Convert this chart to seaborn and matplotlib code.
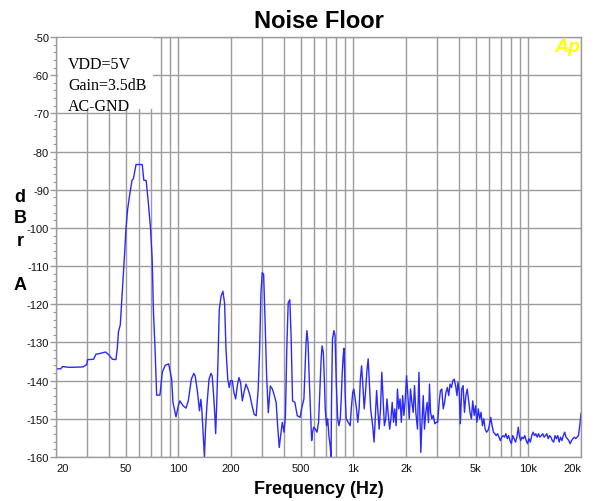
import matplotlib
matplotlib.use("Agg")
import matplotlib.pyplot as plt
from matplotlib.patches import Rectangle
from matplotlib.ticker import FixedLocator, MultipleLocator, NullFormatter
import pandas as pd
import seaborn as sns

# Noise floor sweep (Hz, dBrA)
freq_hz = [
    20, 21.3, 21.8, 23.5, 25.2, 28.5, 30, 30.3, 32.8, 33.8, 37, 38.4, 40, 42, 44,
    44.8, 45.5, 46.6, 48.0, 49.2, 50.2, 51.3, 52.9, 54.4, 55.4, 57.3, 62.2, 63.5,
    65.5, 67.4, 69.4, 70.9, 72.1, 73.6, 75.2, 78.5, 81, 84.1, 88.1, 91.6, 93.2, 97,
    100, 102, 106.6, 110.6, 114, 118.7, 122.6, 124.9, 128.8, 132.1, 134.5, 136.2,
    138.1, 140, 141, 143, 145.6, 149.8, 153.7, 156.2, 159.2, 161.8, 163.4, 165.6,
    168.4, 171.4, 175.5, 179.8, 183.8, 187.3, 191.7, 195.4, 199, 203.5, 207.9,
    212.6, 217.4, 222.1, 226.9, 232.1, 237.1, 243.5, 250.2, 257, 263.9, 271.1,
    278.5, 286.1, 291.5, 296.6, 301.7, 307.3, 312.6, 319.6, 326.7, 335.6, 344.8,
    354.2, 362.3, 370.5, 377.4, 384.3, 393, 402, 409.4, 416.6, 424.5, 433.7, 441.6,
    449.5, 463.5, 478.3, 496, 509, 522, 530, 537, 543, 551, 560, 570, 578, 585, 594,
    607, 620, 633, 646, 655, 663, 674, 683, 691, 703, 714, 725, 737, 746, 751, 760,
    775, 786, 800, 814, 827, 842, 853, 863, 874, 885, 899, 910, 934, 960, 973, 992,
    1007, 1025, 1043, 1060, 1079, 1097, 1115, 1134, 1154, 1174, 1194, 1216, 1235,
    1256, 1290, 1314, 1335, 1359, 1383, 1405, 1430, 1455, 1479, 1505, 1532, 1557,
    1585, 1613, 1640, 1668, 1698, 1726, 1756, 1788, 1817, 1849, 1881, 1913, 1946,
    1980, 2015, 2050, 2087, 2122, 2159, 2199, 2237, 2276, 2326, 2372, 2399, 2431,
    2463, 2509, 2551, 2596, 2642, 2689, 2725, 2763, 2810, 2862, 2921, 2980, 3034,
    3093, 3146, 3203, 3264, 3323, 3382, 3446, 3507, 3571, 3638, 3703, 3770, 3841,
    3911, 3963, 4033, 4088, 4165, 4240, 4316, 4397, 4477, 4558, 4643, 4728, 4813,
    4904, 4992, 5082, 5178, 5272, 5367, 5469, 5567, 5668, 5774, 5878, 5985, 6097,
    6207, 6320, 6438, 6554, 6673, 6798, 6921, 7047, 7178, 7308, 7441, 7579, 7717,
    7857, 8003, 8148, 8296, 8450, 8604, 8761, 8880, 9043, 9207, 9375, 9548, 9722,
    9899, 10082, 10265, 10452, 10644, 10838, 11035, 11238, 11443, 11651, 11865,
    12081, 12301, 12527, 12755, 12987, 13225, 13466, 13711, 13962, 14216, 14475,
    14740, 15009, 15282, 15562, 15845, 16134, 16429, 16727, 17032, 17343, 17659,
    17981, 18310, 18643, 18983, 19330, 19682, 20000,
]
level_dbr = [
    -136.9, -136.9, -136.3, -136.5, -136.5, -136.4, -135.8, -134.5, -134.4, -133.1,
    -132.7, -132.5, -133.2, -134.4, -134.5, -131.6, -127.2, -125.4, -115.7, -107.5,
    -100.3, -95.2, -90.9, -87.5, -87.1, -83.4, -83.4, -87.5, -87.6, -93.4, -100.3,
    -108.1, -122.0, -131.6, -143.8, -143.8, -137.8, -136.0, -135.6, -139.6, -145.7,
    -149.5, -146.6, -145.3, -146.6, -147.2, -145.3, -139.6, -138.1, -138.8, -143.1,
    -147.9, -144.9, -147.5, -152.7, -157.9, -160.0, -152.7, -146.6, -139.6, -138.1,
    -138.8, -144.0, -149.2, -153.9, -146.6, -135.3, -121.4, -117.9, -116.6, -119.7,
    -131.9, -139.6, -141.8, -140.0, -140.0, -143.1, -144.8, -141.3, -139.2, -140.5,
    -145.3, -143.1, -140.9, -142.2, -144.0, -146.6, -148.8, -149.2, -142.2, -131.8,
    -117.0, -111.7, -112.2, -123.1, -138.8, -148.4, -141.4, -142.2, -144.0, -145.7,
    -152.7, -157.5, -154.4, -150.9, -153.5, -149.2, -131.8, -119.6, -118.8, -129.2,
    -145.3, -145.7, -149.2, -149.6, -146.9, -144.8, -137.0, -130.0, -126.9, -130.0,
    -139.6, -148.3, -155.7, -153.5, -152.2, -152.7, -153.5, -150.9, -141.3, -134.3,
    -130.9, -132.6, -139.6, -147.4, -151.8, -150.0, -154.4, -157.0, -160.0, -144.8,
    -129.1, -126.9, -128.2, -141.3, -150.0, -151.8, -150.0, -144.8, -138.7, -133.9,
    -131.5, -143.9, -150.0, -150.9, -151.8, -147.4, -143.1, -142.2, -144.8, -147.4,
    -150.9, -147.4, -139.6, -136.1, -141.3, -147.4, -143.1, -137.8, -134.3, -140.4,
    -147.4, -151.8, -156.1, -150.0, -142.6, -148.3, -152.7, -147.4, -137.8, -144.8,
    -151.8, -150.0, -144.8, -149.1, -152.7, -150.0, -145.7, -150.9, -147.4, -151.8,
    -142.2, -147.4, -144.8, -150.9, -143.9, -149.1, -144.8, -138.7, -143.9, -150.0,
    -142.2, -145.7, -148.3, -141.3, -148.3, -152.7, -137.8, -148.3, -158.8, -151.8,
    -143.9, -152.7, -148.3, -145.7, -151.0, -140.9, -148.3, -150.0, -149.1, -151.3,
    -150.9, -150.9, -145.7, -142.6, -142.2, -147.4, -145.7, -143.1, -141.8, -143.9,
    -140.9, -141.8, -140.0, -139.6, -141.3, -143.9, -140.4, -143.1, -151.3, -142.2,
    -141.3, -148.3, -143.9, -142.2, -145.3, -148.3, -150.0, -145.3, -149.1, -146.6,
    -150.9, -147.4, -150.0, -148.3, -151.8, -150.0, -152.7, -153.5, -153.1, -151.8,
    -149.6, -151.8, -153.5, -153.9, -154.4, -153.9, -154.8, -155.7, -154.8, -154.4,
    -154.8, -153.9, -155.2, -154.4, -155.7, -156.5, -154.4, -155.2, -156.1, -154.8,
    -152.2, -154.4, -155.7, -154.8, -155.2, -154.4, -155.7, -156.5, -155.2, -156.1,
    -154.4, -153.5, -154.4, -153.9, -154.8, -153.9, -154.8, -154.4, -153.9, -154.8,
    -154.4, -153.9, -155.2, -154.4, -154.8, -155.7, -156.1, -154.4, -155.2, -154.4,
    -156.1, -154.8, -155.7, -154.4, -153.5, -154.8, -155.2, -155.7, -156.5, -155.7,
    -155.2, -154.8, -155.2, -154.8, -154.4, -151.8, -148.5,
]

tick_freqs = [20, 50, 100, 200, 500, 1000, 2000, 5000, 10000, 20000]
tick_labels = ["20", "50", "100", "200", "500", "1k", "2k", "5k", "10k", "20k"]
grid_freqs = ([f for f in range(20, 100, 10)] + [f for f in range(100, 1000, 100)]
              + [f for f in range(1000, 10001, 1000)])
level_ticks = list(range(-160, -49, 10))
annotation = "VDD=5V\nGain=3.5dB\nAC-GND"

sns.set_style("white")
plt.rcParams['font.family'] = ['Liberation Sans', 'DejaVu Sans']
plt.rcParams['axes.unicode_minus'] = False
plt.rcParams['text.color'] = 'black'

fig = plt.figure(figsize=(5.97, 5.02), dpi=100)
ax = fig.add_axes([56 / 597, 44 / 502, 525 / 597, 420 / 502])

df = pd.DataFrame({"Frequency": freq_hz, "Level": level_dbr})
sns.lineplot(data=df, x="Frequency", y="Level", ax=ax, color="#2a2aff",
             linewidth=1.0, estimator=None, sort=False)

ax.set_xscale("log")
ax.set_xlim(20, 20000)
ax.set_ylim(-160, -50)
ax.set_xticks(tick_freqs, tick_labels)
ax.xaxis.set_minor_locator(FixedLocator(grid_freqs))
ax.xaxis.set_minor_formatter(NullFormatter())
ax.set_yticks(level_ticks)
ax.yaxis.set_minor_locator(MultipleLocator(2))
ax.set_axisbelow(True)
ax.grid(which="both", axis="x", color="#9c9c9c", linewidth=1)
ax.grid(which="major", axis="y", color="#9c9c9c", linewidth=1)
ax.set_xlabel("")
ax.set_ylabel("")

ax.tick_params(axis="x", which="both", length=0, pad=4, labelsize=8, labelcolor="#111111")
ax.tick_params(axis="y", which="major", length=4, width=1, color="#9c9c9c", pad=1,
               labelsize=8, labelcolor="#111111", left=True)
ax.tick_params(axis="y", which="minor", length=2.5, width=0.8, color="#9c9c9c", left=True)
xl = ax.get_xticklabels()
xl[0].set_ha("left")
xl[-1].set_ha("right")
for s in ax.spines.values():
    s.set_color("#9c9c9c")
    s.set_linewidth(1)

# white label box in the top-left corner
ax.add_patch(Rectangle((0.004, 0.828), 0.18, 0.17, transform=ax.transAxes,
                       facecolor="white", edgecolor="none", zorder=3))
ax.text(0.023, 0.955, annotation, transform=ax.transAxes, va="top", ha="left",
        family="Liberation Serif", fontsize=11.5, linespacing=1.42, zorder=4)

fig.text(567 / 597, 1 - 48 / 502, "Ap", color="#ffff00", fontsize=14,
         fontweight="bold", fontstyle="italic", ha="center", va="center")

fig.text(318.5 / 597, 1 - 21 / 502, "Noise Floor", fontsize=17, fontweight="bold",
         ha="center", va="center")
fig.text(318.5 / 597, 1 - 490 / 502, "Frequency (Hz)", fontsize=13, fontweight="bold",
         ha="center", va="center")
for letter, base in zip(["d", "B", "r", "A"], [202, 223, 246, 290]):
    fig.text(20 / 597, 1 - base / 502, letter, fontsize=13, fontweight="bold",
             ha="center", va="baseline")

fig.savefig("out.png", dpi=100)
